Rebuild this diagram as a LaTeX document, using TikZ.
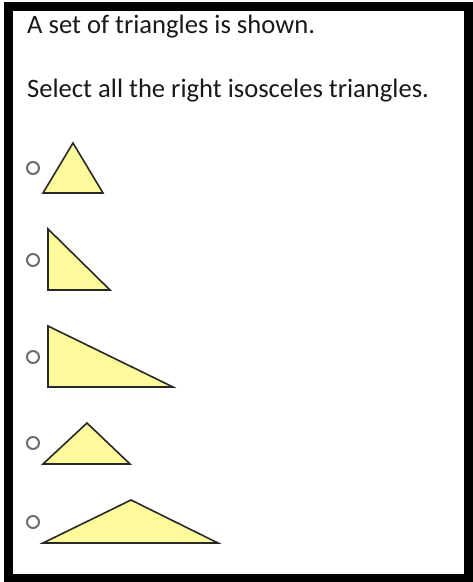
\documentclass[tikz,border=0pt]{standalone}
\usepackage{fontspec}
\setmainfont{Carlito}
\definecolor{triFill}{RGB}{252,250,155}
\definecolor{triLine}{RGB}{40,40,40}
\definecolor{radioGrey}{RGB}{110,110,110}
\tikzset{
  qtext/.style={anchor=base west, inner sep=0pt, font=\fontsize{26.6}{32}\selectfont, text=black!90},
  radio/.style={circle, draw=radioGrey, line width=2pt, minimum size=12pt, inner sep=0pt},
  tri/.style={fill=triFill, draw=triLine, line width=1.6pt, line join=miter},
  frame/.style={draw=black, line width=9pt}
}
\begin{document}
\begin{tikzpicture}[x=1pt,y=-1pt]
\useasboundingbox (0,0) rectangle (473,582);
\draw[frame] (8.5,6.5) rectangle (468,578);
\node[qtext] (t1) at (27,33) {A set of triangles is shown.};
\node[qtext] (t2) at (27,97) {Select all the right isosceles triangles.};
% radio buttons
\node[radio] (r1) at (33,168) {};
\node[radio] (r2) at (33,260) {};
\node[radio] (r3) at (33,357) {};
\node[radio] (r4) at (33,443) {};
\node[radio] (r5) at (33,522) {};
% triangle 1
\coordinate (a1) at (73,143); \coordinate (b1) at (43,193); \coordinate (c1) at (103,193);
\draw[tri] (a1) -- (b1) -- (c1) -- cycle;
% triangle 2
\coordinate (a2) at (48,229); \coordinate (b2) at (48,290); \coordinate (c2) at (110,290);
\draw[tri] (a2) -- (b2) -- (c2) -- cycle;
% triangle 3
\coordinate (a3) at (48,326); \coordinate (b3) at (48,387); \coordinate (c3) at (173,387);
\draw[tri] (a3) -- (b3) -- (c3) -- cycle;
% triangle 4
\coordinate (a4) at (87,423); \coordinate (b4) at (43,464); \coordinate (c4) at (130,464);
\draw[tri] (a4) -- (b4) -- (c4) -- cycle;
% triangle 5
\coordinate (a5) at (131,500); \coordinate (b5) at (43,543); \coordinate (c5) at (218,543);
\draw[tri] (a5) -- (b5) -- (c5) -- cycle;
\end{tikzpicture}
\end{document}
